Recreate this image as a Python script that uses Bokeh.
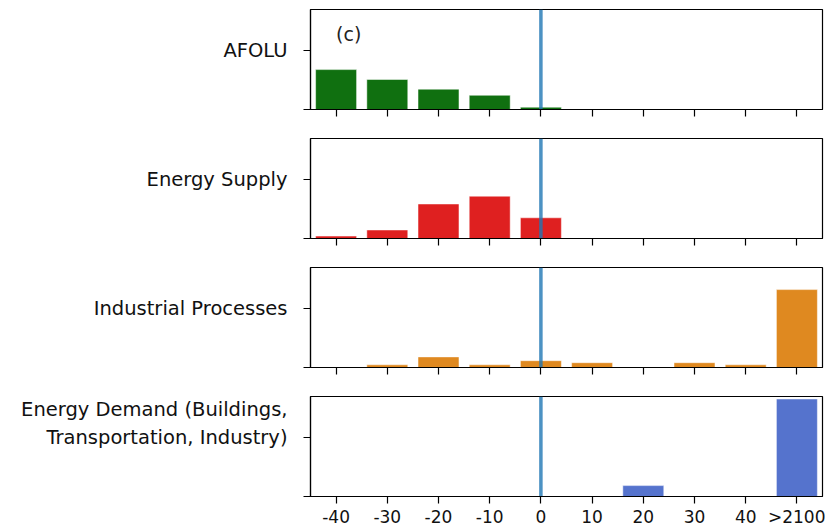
from bokeh.plotting import figure
from bokeh.layouts import column
from bokeh.models import FactorRange, Range1d, FixedTicker
from bokeh.embed import file_html
from bokeh.resources import INLINE
from bokeh.core.properties import value

# ---- data ----
categories = ["-40", "-30", "-20", "-10", "0", "10", "20", "30", "40", ">2100"]
sectors = [
    "AFOLU",
    "Energy Supply",
    "Industrial Processes",
    "Energy Demand (Buildings,\nTransportation, Industry)\n ",
]
afolu = [39.9, 30.0, 20.3, 14.2, 2.3, 0, 0, 0, 0, 0]
energy_supply = [2.4, 8.5, 34.5, 42.3, 20.7, 0, 0, 0, 0, 0]
industrial_processes = [0, 2.7, 10.6, 2.7, 6.8, 4.8, 0, 4.8, 2.7, 77.9]
energy_demand = [0, 0, 0, 0, 0, 0, 10.9, 0, 0, 97.5]
series = [afolu, energy_supply, industrial_processes, energy_demand]
colors = ["#107010", "#df2020", "#df8920", "#5573cd"]
y_tick = 59
y_max = 100
zero_category = "0"
panel_tag = "(c)"

FONT = "DejaVu Sans"
FS_X = "17px"
FS_Y = "19.5px"

x_range = FactorRange(factors=categories, range_padding=0)
figs = []
n = len(sectors)
for i, (name, vals, col) in enumerate(zip(sectors, series, colors)):
    last = i == n - 1
    p = figure(
        x_range=x_range,
        y_range=Range1d(0, y_max),
        frame_width=512,
        frame_height=100,
        min_border_left=310,
        min_border_right=3,
        min_border_top=9 if i == 0 else 2,
        min_border_bottom=27,
        output_backend="svg",
        toolbar_location=None,
        background_fill_color="white",
        border_fill_color="white",
    )
    p.vbar(x=categories, top=vals, width=0.8, fill_color=col,
           line_color="white", line_width=0.8, line_alpha=0.6)
    p.segment(x0=[zero_category], y0=[0], x1=[zero_category], y1=[y_max],
              line_color="#1f77b4", line_alpha=0.8, line_width=3.5)
    if i == 0:
        p.text(x=[categories[0]], y=[76], text=[panel_tag], text_align="left",
               text_baseline="middle", text_font=value(FONT),
               text_font_size="19px", text_color="#222222")

    p.xgrid.grid_line_color = None
    p.ygrid.grid_line_color = None
    p.outline_line_color = "black"
    p.outline_line_width = 1.2
    p.outline_line_alpha = 1.0

    xa = p.xaxis[0]
    xa.axis_line_color = "black"
    xa.axis_line_width = 1.2
    xa.major_tick_line_color = "black"
    xa.major_tick_line_width = 1.2
    xa.major_tick_out = 7
    xa.major_tick_in = 0
    xa.minor_tick_line_color = None
    xa.major_label_text_font = FONT
    xa.major_label_text_font_size = FS_X
    xa.major_label_text_color = "#111111"
    xa.major_label_standoff = 3
    xa.group_text_font_size = "0px"
    if not last:
        xa.major_label_text_font_size = "0px"
        xa.major_label_text_color = None

    ya = p.yaxis[0]
    ya.ticker = FixedTicker(ticks=[0, y_tick])
    ya.major_label_overrides = {0: "", y_tick: name}
    ya.axis_line_color = "black"
    ya.axis_line_width = 1.2
    ya.major_tick_line_color = "black"
    ya.major_tick_line_width = 1.2
    ya.major_tick_out = 7
    ya.major_tick_in = 0
    ya.minor_tick_line_color = None
    ya.major_label_text_font = FONT
    ya.major_label_text_font_size = FS_Y
    ya.major_label_text_color = "#111111"
    ya.major_label_standoff = 16
    figs.append(p)

layout = column(*figs, spacing=0)
open("out.html", "w").write(file_html(layout, INLINE))
